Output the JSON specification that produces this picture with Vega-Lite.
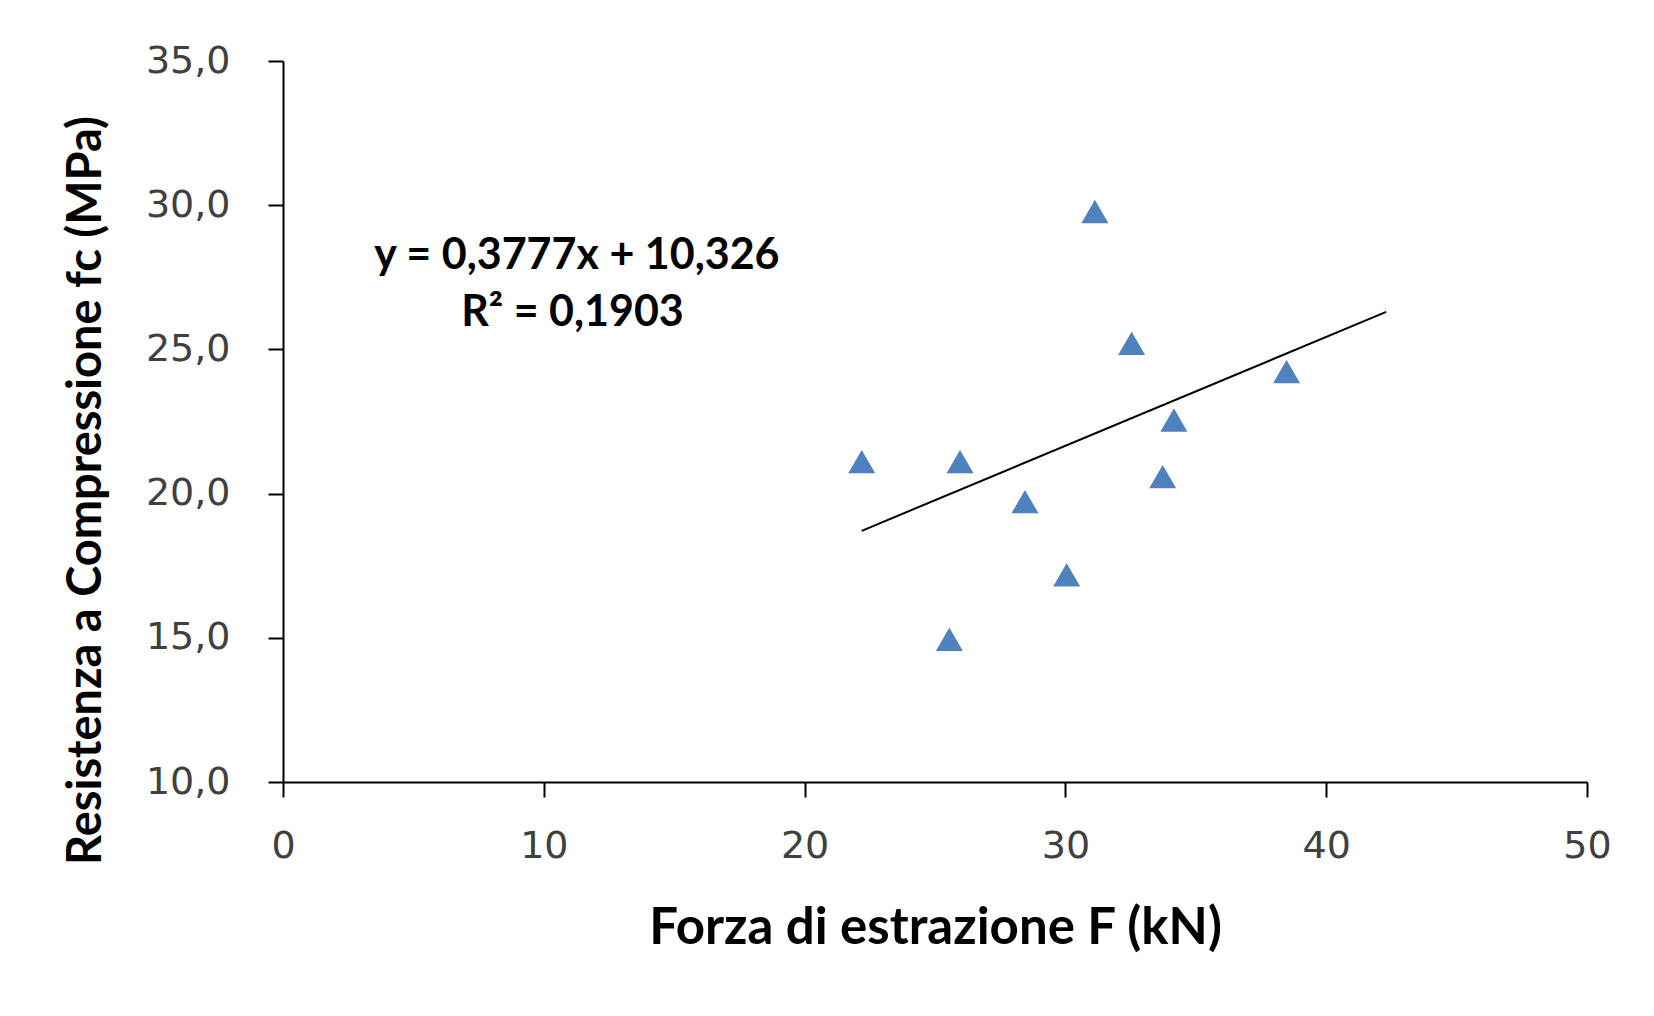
{
  "$schema": "https://vega.github.io/schema/vega-lite/v6.json",
  "width": 1304,
  "height": 721,
  "autosize": {"type": "none"},
  "padding": {"left": 283, "top": 61, "right": 67, "bottom": 234},
  "background": "white",
  "datasets": {
    "points": [
      {"forza": 22.19, "resistenza": 21.11},
      {"forza": 25.96, "resistenza": 21.11},
      {"forza": 25.55, "resistenza": 14.95},
      {"forza": 28.45, "resistenza": 19.72},
      {"forza": 30.05, "resistenza": 17.18},
      {"forza": 31.13, "resistenza": 29.78},
      {"forza": 32.54, "resistenza": 25.21},
      {"forza": 33.73, "resistenza": 20.59},
      {"forza": 34.16, "resistenza": 22.55},
      {"forza": 38.48, "resistenza": 24.23}
    ],
    "trend": [
      {"forza": 22.19, "resistenza": 18.71},
      {"forza": 42.3, "resistenza": 26.30}
    ],
    "notes": [
      {"forza": 11.27, "resistenza": 28.24, "label": "y = 0,3777x + 10,326"},
      {"forza": 11.1, "resistenza": 26.26, "label": "R² = 0,1903"}
    ]
  },
  "config": {
    "locale": {"number": {"decimal": ",", "thousands": ".", "grouping": [3], "currency": ["€", ""]}},
    "view": {"stroke": null},
    "axis": {
      "grid": false,
      "domainColor": "#000000",
      "domainWidth": 2,
      "tickColor": "#000000",
      "tickWidth": 2,
      "tickSize": 15,
      "labelFont": "DejaVu Sans",
      "labelFontSize": 38,
      "labelColor": "#404040",
      "labelFlush": false,
      "labelOverlap": false,
      "titleFont": "Lato",
      "titleFontWeight": "bold",
      "titleColor": "#000000"
    }
  },
  "layer": [
    {
      "data": {"name": "trend"},
      "mark": {"type": "line", "color": "#000000", "strokeWidth": 2},
      "encoding": {
        "x": {
          "field": "forza",
          "type": "quantitative",
          "scale": {"domain": [0, 50], "nice": false, "zero": false},
          "axis": {
            "values": [0, 10, 20, 30, 40, 50],
            "format": "d",
            "labelPadding": 30,
            "title": "Forza di estrazione F (kN)",
            "titleFontSize": 51,
            "titleX": 652,
            "titleY": 146,
            "titleBaseline": "middle",
            "titleAnchor": null,
            "titleAlign": "center"
          }
        },
        "y": {
          "field": "resistenza",
          "type": "quantitative",
          "scale": {"domain": [10, 35], "nice": false, "zero": false},
          "axis": {
            "values": [10, 15, 20, 25, 30, 35],
            "format": ".1f",
            "labelPadding": 38,
            "title": "Resistenza  a Compressione fc (MPa)",
            "titleFontSize": 47,
            "titleAngle": 270,
            "titleX": -197,
            "titleY": 429,
            "titleBaseline": "middle",
            "titleAlign": "center"
          }
        }
      }
    },
    {
      "data": {"name": "points"},
      "mark": {"type": "point", "shape": "triangle-up", "filled": true, "size": 729, "color": "#4F81BD", "opacity": 1},
      "encoding": {
        "x": {"field": "forza", "type": "quantitative"},
        "y": {"field": "resistenza", "type": "quantitative"}
      }
    },
    {
      "data": {"name": "notes"},
      "mark": {"type": "text", "font": "Lato", "fontWeight": "bold", "fontSize": 43, "color": "#000000", "align": "center", "baseline": "middle"},
      "encoding": {
        "x": {"field": "forza", "type": "quantitative"},
        "y": {"field": "resistenza", "type": "quantitative"},
        "text": {"field": "label"}
      }
    }
  ]
}
